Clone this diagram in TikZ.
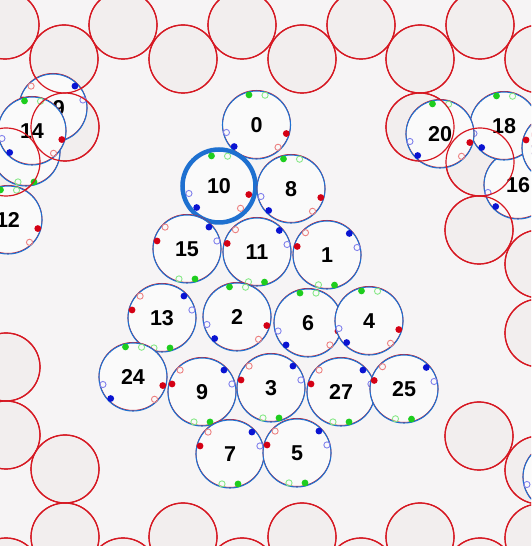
\documentclass[tikz,border=0pt]{standalone}
\usepackage{fontspec}
\setmainfont{Liberation Sans}
\definecolor{bgc}{RGB}{246,244,245}
\definecolor{wallfill}{RGB}{242,238,238}
\definecolor{wallline}{RGB}{214,24,34}
\definecolor{pfill}{RGB}{250,250,250}
\definecolor{pline}{RGB}{30,112,208}
\definecolor{gfc}{RGB}{30,205,30}
\definecolor{goc}{RGB}{135,232,135}
\definecolor{rfc}{RGB}{212,0,20}
\definecolor{roc}{RGB}{236,130,130}
\definecolor{bfc}{RGB}{10,20,210}
\definecolor{boc}{RGB}{130,130,236}
\tikzset{
  wall/.style={draw=wallline,fill=wallfill,line width=1.2pt},
  wallrim/.style={draw=wallline,line width=1.2pt},
  ptc/.style={circle,fill=pfill,minimum size=68pt,inner sep=0pt,
    font=\fontsize{21.5}{21.5}\selectfont\bfseries},
  poutline/.style={draw=pline,line width=1.1pt},
  pred/.style={draw=wallline,line width=0.8pt},
  gf/.style={fill=gfc},
  go/.style={draw=goc,line width=0.9pt},
  rf/.style={fill=rfc},
  ro/.style={draw=roc,line width=0.9pt},
  bf/.style={fill=bfc},
  bo/.style={draw=boc,line width=0.9pt},
}
% name, x, y (image px, y down), theta, label
\newcommand\prt[5]{%
  \node[ptc] (#1) at (#2,{546-#3}) {#5};
  \draw[pred] (#2,{546-#3+0.6}) circle (34);
  \draw[poutline] (#1.center) circle (34);
  \fill[gf] (#1.center) ++(#4+105:31) circle (3.4);
  \draw[go] (#1.center) ++(#4+75:31) circle (3.1);
  \fill[rf] (#1.center) ++(#4-15:31) circle (3.4);
  \draw[ro] (#1.center) ++(#4-45:31) circle (3.1);
  \fill[bf] (#1.center) ++(#4+225:31) circle (3.4);
  \draw[bo] (#1.center) ++(#4+195:31) circle (3.1);
}
\newcommand\wallpts{5/25,123/25,242/25,361/25,480/25,
  64/59,183/59,302/59,420/59,539/59,
  65/127,6/162,
  420/127,480/162,479/230,539/264,539/333,479/436,539/470,539/538,
  6/367,6/435,65/469,65/537,6/572,
  183/537,302/537,420/537,123/572,242/572,361/572,480/572}
\begin{document}
\begin{tikzpicture}[x=1pt,y=1pt]
\useasboundingbox (0,0) rectangle (531,546);
\clip (0,0) rectangle (531,546);
\fill[bgc] (0,0) rectangle (531,546);
% walls
\foreach \wx/\wy in \wallpts
  \draw[wall] (\wx,{546-\wy}) circle (34);
% particles
\prt{ph}{26}{152}{180}{}
\prt{p19}{53}{108}{180}{19}
\prt{p14}{32}{131}{-1}{14}
\prt{p12}{8}{220}{-1}{12}
\prt{p0}{256.5}{125}{-1}{0}
\node[ptc] (p10) at (219,{546-186}) {10};
\draw[draw=pline,line width=4.5pt] (p10.center) circle (36.5);
\fill[gf] (p10.center) ++(104:31) circle (3.4);
\draw[go] (p10.center) ++(74:31) circle (3.1);
\fill[rf] (p10.center) ++(-16:31) circle (3.4);
\draw[ro] (p10.center) ++(-46:31) circle (3.1);
\fill[bf] (p10.center) ++(224:31) circle (3.4);
\draw[bo] (p10.center) ++(194:31) circle (3.1);
\prt{p8}{291}{189}{-1}{8}
\prt{p15}{187}{249}{180}{15}
\prt{p11}{257}{252}{179}{11}
\prt{p1}{327}{255}{179}{1}
\prt{p13}{162}{318}{180}{13}
\prt{p2}{237}{317}{-1}{2}
\prt{p6}{308}{323}{0}{6}
\prt{p4}{369}{321}{-1}{4}
\prt{p24}{133}{377}{-1}{24}
\prt{p9}{202}{392}{180}{9}
\prt{p3}{271}{388}{180}{3}
\prt{p27}{341}{392}{180}{27}
\prt{p25}{404}{389}{179}{25}
\prt{p7}{230}{454}{180}{7}
\prt{p5}{297}{453}{180}{5}
\prt{p16}{518}{185}{-1}{16}
\prt{p18}{504}{126}{-1}{18}
\prt{p20}{440}{134}{-1}{20}
\prt{pr1}{556}{148}{180}{}
\prt{pr2}{557}{477}{-1}{}
% wall rims drawn over particles
\foreach \wx/\wy in \wallpts
  \draw[wallrim] (\wx,{546-\wy}) circle (34);
\end{tikzpicture}
\end{document}
